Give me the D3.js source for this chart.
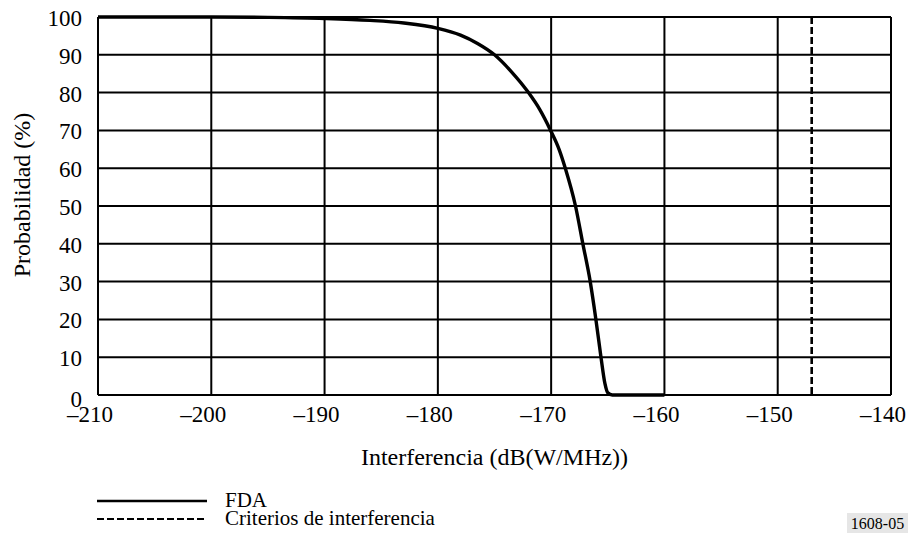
<!DOCTYPE html>
<html>
<head>
<meta charset="utf-8">
<script src="https://cdn.jsdelivr.net/npm/d3@7"></script>
<style>
  body { margin: 0; background: #fff; }
</style>
</head>
<body>
<svg id="chart" width="909" height="545"></svg>
<script>
// curve (FDA)
var fdaX = [-210, -200, -195, -190, -186, -183, -180, -178, -176.5, -175, -173.5, -172, -171, -170.05, -169.3, -168.75, -167.85, -167.2, -166.55, -166.05, -165.6, -165.25, -165.0, -164.6, -160];
var fdaY = [100, 100, 99.9, 99.6, 99.1, 98.4, 97.0, 95.2, 93.0, 90, 85.5, 80, 75.5, 70, 65, 60, 50, 40, 30, 20, 10, 3, 0.6, 0, 0];
var criterion = -147;
var xTicks = [-210, -200, -190, -180, -170, -160, -150, -140];
var yTicks = [0, 10, 20, 30, 40, 50, 60, 70, 80, 90, 100];
var legendLabels = ["FDA", "Criterios de interferencia"];

(function () {
var svg = d3.select("#chart")
  .attr("font-family", "'Liberation Serif', 'Times New Roman', 'DejaVu Serif', serif");
var m = {left: 98, right: 891, top: 17, bottom: 395};

var x = d3.scaleLinear().domain([-210, -140]).range([m.left, m.right]);
var y = d3.scaleLinear().domain([0, 100]).range([m.bottom, m.top]);

function fmt(d) { return d < 0 ? "\u2013" + Math.abs(d) : d; }

// grid
svg.append("g")
  .selectAll("line")
  .data(xTicks)
  .join("line")
    .attr("x1", d => x(d)).attr("x2", d => x(d))
    .attr("y1", m.top).attr("y2", m.bottom)
    .attr("stroke", "#000").attr("stroke-width", 2);

svg.append("g")
  .selectAll("line")
  .data(yTicks)
  .join("line")
    .attr("x1", m.left).attr("x2", m.right)
    .attr("y1", d => y(d)).attr("y2", d => y(d))
    .attr("stroke", "#000").attr("stroke-width", 2);

// tick labels
svg.append("g")
    .attr("font-size", 23)
  .selectAll("text")
  .data(xTicks)
  .join("text")
    .attr("x", d => x(d) - 8)
    .attr("y", 422)
    .attr("text-anchor", "middle")
    .text(fmt);

svg.append("g")
    .attr("font-size", 23)
  .selectAll("text")
  .data(yTicks)
  .join("text")
    .attr("x", 82)
    .attr("y", d => y(d) + (d === 0 ? 12 : 9))
    .attr("text-anchor", "end")
    .text(d => d);

// criterion line
svg.append("line")
  .attr("x1", x(criterion)).attr("x2", x(criterion))
  .attr("y1", m.top).attr("y2", m.bottom)
  .attr("stroke", "#000").attr("stroke-width", 2.6)
  .attr("stroke-dasharray", "7,3");

// FDA curve
var pts = fdaX.map((d, i) => [d, fdaY[i]]);
svg.append("path")
  .datum(pts)
  .attr("fill", "none")
  .attr("stroke", "#000")
  .attr("stroke-width", 3.4)
  .attr("stroke-linejoin", "round")
  .attr("d", d3.line().x(d => x(d[0])).y(d => y(d[1])).curve(d3.curveMonotoneX));

// axis titles
svg.append("text")
  .attr("x", (m.left + m.right) / 2)
  .attr("y", 465)
  .attr("text-anchor", "middle")
  .attr("font-size", 24)
  .text("Interferencia (dB(W/MHz))");

svg.append("text")
  .attr("transform", "translate(30,195) rotate(-90)")
  .attr("text-anchor", "middle")
  .attr("font-size", 24)
  .text("Probabilidad (%)");

// legend
var lg = svg.append("g");
legendLabels.forEach(function (lab, i) {
  var ly = 501 + i * 18;
  lg.append("line")
    .attr("x1", 97).attr("x2", 207)
    .attr("y1", ly).attr("y2", ly)
    .attr("stroke", "#000")
    .attr("stroke-width", i === 0 ? 2.6 : 2)
    .attr("stroke-dasharray", i === 0 ? null : "7,3");
  lg.append("text")
    .attr("x", 225)
    .attr("y", ly + 6)
    .attr("font-size", 21)
    .text(lab);
});

// figure code
svg.append("rect")
  .attr("x", 847).attr("y", 513).attr("width", 61).attr("height", 20)
  .attr("fill", "#e6e6e6");
svg.append("text")
  .attr("x", 877.5).attr("y", 529)
  .attr("text-anchor", "middle")
  .attr("font-size", 16)
  .text("1608-05");
})();
</script>
</body>
</html>
